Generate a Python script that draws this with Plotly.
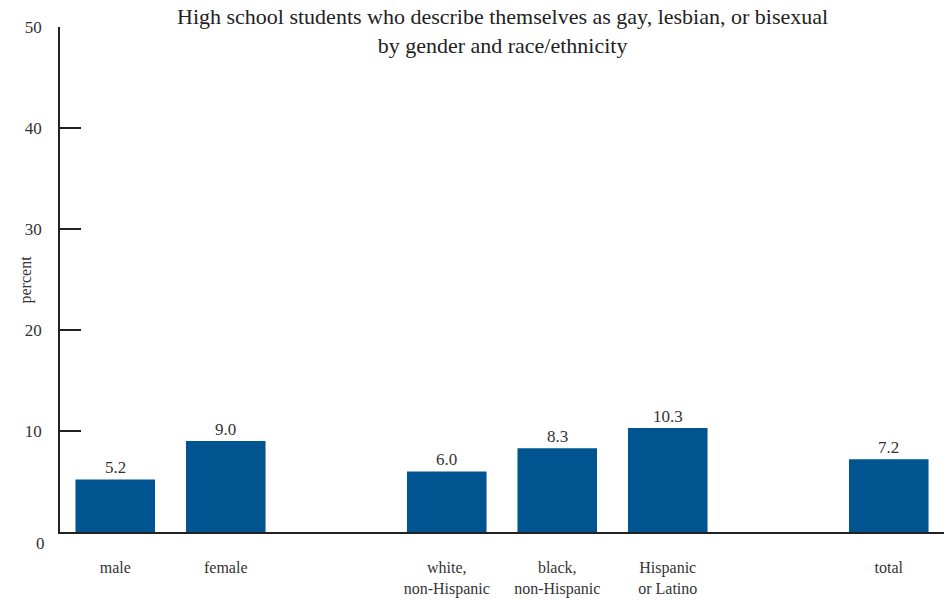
import plotly.graph_objects as go

# Data
groups = [
    ["male", "female"],
    ["white,<br>non-Hispanic", "black,<br>non-Hispanic", "Hispanic<br>or Latino"],
    ["total"],
]
values = [5.2, 9.0, 6.0, 8.3, 10.3, 7.2]
value_labels = ["5.2", "9.0", "6.0", "8.3", "10.3", "7.2"]
y_ticks = [10, 20, 30, 40, 50]

title_text = ("High school students who describe themselves as gay, lesbian, or bisexual"
              "<br>by gender and race/ethnicity")

# slot positions: one empty slot between groups
categories, positions = [], []
pos = 0
for g in groups:
    for c in g:
        categories.append(c)
        positions.append(pos)
        pos += 1
    pos += 1

FONT = "Liberation Serif, Times New Roman, serif"
TXT = "#333333"
BAR = "#00548F"

fig = go.Figure(go.Bar(
    x=positions, y=values, width=0.72,
    marker=dict(color=BAR, line=dict(width=0)),
    hoverinfo="x+y",
))

value_annotations = [
    dict(text=t, x=p, y=v, xref="x", yref="y", xanchor="center", yanchor="bottom",
         showarrow=False, yshift=0, font=dict(family=FONT, size=17, color=TXT))
    for p, v, t in zip(positions, values, value_labels)
]

fig.update_layout(
    width=948, height=600,
    margin=dict(l=60, r=4, t=27, b=68),
    plot_bgcolor="white", paper_bgcolor="white",
    showlegend=False,
    font=dict(family=FONT, color=TXT),
    xaxis=dict(
        range=[-0.5, 7.5], tickmode="array", tickvals=positions, ticktext=categories,
        showgrid=False, zeroline=False, showline=True, linecolor="#222222", linewidth=1.5,
        ticks="", tickfont=dict(family=FONT, size=16, color=TXT), ticklabelstandoff=20,
        automargin=False, fixedrange=True,
    ),
    yaxis=dict(
        range=[0, 50], tickmode="array", tickvals=y_ticks,
        showgrid=False, zeroline=False, showline=True, linecolor="#222222", linewidth=1.5,
        ticks="inside", ticklen=21, tickwidth=1.5, tickcolor="#222222",
        tickfont=dict(family=FONT, size=17, color=TXT), ticklabelstandoff=13,
        automargin=False,
    ),
    annotations=value_annotations + [
        dict(text=title_text, xref="paper", yref="paper", x=0.5, y=1.0, yshift=25,
             xanchor="center", yanchor="top", showarrow=False,
             font=dict(family=FONT, size=22, color="#222222")),
        dict(text="percent", xref="paper", yref="paper", x=(25 - 60) / 884, y=0.5,
             textangle=-90, showarrow=False, xanchor="center", yanchor="middle",
             font=dict(family=FONT, size=16, color=TXT)),
        dict(text="0", xref="paper", yref="y", x=0, y=0, xshift=-13, yshift=-11,
             xanchor="right", yanchor="middle", showarrow=False,
             font=dict(family=FONT, size=17, color=TXT)),
    ],
)

fig.write_html("out.html", config={"displayModeBar": False},
               post_script="document.body.style.margin='0';document.body.style.overflow='hidden';")
